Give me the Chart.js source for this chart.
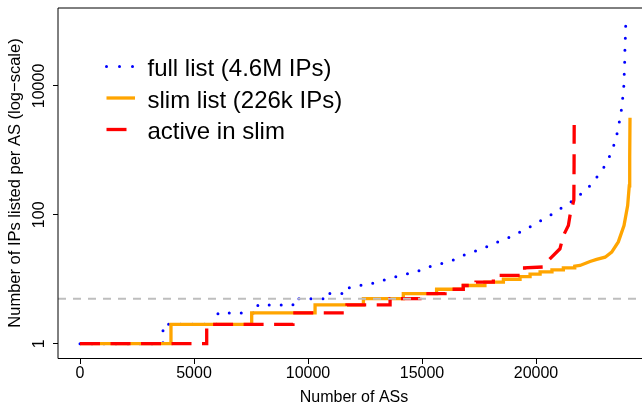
<!DOCTYPE html>
<html lang="en">
<head>
<meta charset="UTF-8">
<title>IPs listed per AS</title>
<script src="https://cdn.jsdelivr.net/npm/chart.js"></script>
<style>
  html, body { margin: 0; padding: 0; overflow: hidden; background: #fff; }
  #wrap { width: 650px; height: 407px; }
</style>
</head>
<body>
<div id="wrap"><canvas id="chart" width="650" height="407"></canvas></div>
<script>
  // sorted ASs -> IPs per AS
  const fullX = [0, 3640, 3640, 6050, 6050, 7800, 7800, 9340, 9340, 10660,
                 10660, 11580, 11580, 12130, 12630, 13030, 13450, 13860, 14300, 14750,
                 15120, 15560, 15970, 16390, 16750, 17150, 17560, 17940, 18320, 18710,
                 19110, 19440, 19810, 20180, 20530, 20850, 21200, 21540, 21870, 22180,
                 22490, 22750, 23010, 23230, 23410, 23550, 23650, 23740, 23800, 23850,
                 23870, 23890, 23900, 23920, 23935];
  const fullY = [1, 1, 2, 2, 3, 3, 4, 4, 5, 5,
                 6, 6, 7, 8, 8.2, 9.1, 10, 11, 12, 13,
                 15, 16.4, 18, 20, 23, 26, 29, 33, 38, 43,
                 49, 58, 67, 80, 93, 111, 134, 160, 196, 243,
                 311, 424, 570, 813, 1190, 1780, 2700, 4140, 6340, 9820,
                 15200, 23700, 36700, 56800, 88300];

  const slimX = [0, 3990, 3990, 7530, 7530, 10310, 10310, 12430, 12430, 14180,
                 14180, 15640, 15640, 16810, 16810, 17760, 17760, 18570, 18570, 19300,
                 19300, 19740, 19740, 20180, 20180, 20700, 20700, 21200, 21200, 21700,
                 21700, 21930, 22370, 22660, 23030, 23320, 23610, 23860, 24020, 24090,
                 24110, 24123];
  const slimY = [1, 1, 2, 2, 3, 3, 4, 4, 5, 5,
                 6, 6, 7, 7, 8, 8, 9, 9, 10, 10,
                 11, 11, 12, 12, 13, 13, 14, 14, 15, 15,
                 16, 16.4, 18.9, 20.3, 22, 26.4, 38, 68, 139, 282,
                 800, 3220];

  const activeX = [0, 5557, 5557, 9340, 9340, 11710, 11710, 13600, 13600, 14910,
                   14910, 16010, 16010, 16810, 16810, 17370, 17370, 18130, 18130, 18400,
                   18400, 19300, 19300, 19500, 19500, 20300, 20610, 21050, 21200, 21420,
                   21490, 21580, 21660, 21670, 21675];
  const activeY = [1, 1, 2, 2, 3, 3, 4, 4, 5, 5,
                   6, 6, 7, 7, 8, 8, 9, 9, 10, 10,
                   11.5, 11.5, 13, 13, 15, 15.5, 20.8, 29.7, 47.5, 68,
                   97, 130, 170, 600, 2480];

  const threshold = 5;
  const xTicks = [0, 5000, 10000, 15000, 20000];
  const yTicks = [1, 100, 10000];
  const xMin = -965, xMax = 25000;
  const yMin = 0.637, yMax = 161900;

  const labels = ['full list (4.6M IPs)', 'slim list (226k IPs)', 'active in slim'];

  function pts(xs, ys) {
    return xs.map((x, i) => ({ x: x, y: ys[i] }));
  }

  const FONT = '"Liberation Sans", Arial, Helvetica, sans-serif';

  // box round the plot region
  const boxPlugin = {
    id: 'box',
    afterDraw(chart) {
      const a = chart.chartArea, ctx = chart.ctx;
      ctx.save();
      ctx.strokeStyle = '#000';
      ctx.lineWidth = 1;
      ctx.beginPath();
      ctx.moveTo(a.left, a.bottom + 0.5);
      ctx.lineTo(a.left, a.top);
      ctx.lineTo(a.right, a.top);
      ctx.moveTo(a.left, a.bottom + 0.5);
      ctx.lineTo(a.right, a.bottom + 0.5);
      ctx.stroke();
      ctx.restore();
    }
  };

  // legend inside the plot, top left
  const insideLegend = {
    id: 'insideLegend',
    afterDraw(chart) {
      const ctx = chart.ctx;
      ctx.save();
      ctx.font = '24px ' + FONT;
      ctx.fillStyle = '#000';
      ctx.textBaseline = 'alphabetic';
      for (let i = 0; i < 3; i++) {
        const ds = chart.data.datasets[i];
        const base = 76 + 31.5 * i;
        const sy = base - 9.5;
        ctx.strokeStyle = ds.borderColor;
        ctx.lineWidth = ds.borderWidth;
        ctx.lineCap = ds.borderCapStyle || 'butt';
        ctx.setLineDash(ds.legendDash);
        ctx.beginPath();
        ctx.moveTo(106.5, sy);
        ctx.lineTo(135, sy);
        ctx.stroke();
        ctx.fillText(ds.label, 147.5, base);
      }
      ctx.restore();
    }
  };

  new Chart(document.getElementById('chart'), {
    type: 'line',
    data: {
      datasets: [
        {
          label: labels[0],
          data: pts(fullX, fullY),
          borderColor: '#0000FF',
          borderWidth: 3,
          borderDash: [0, 12],
          legendDash: [0, 13],
          borderCapStyle: 'round',
          pointRadius: 0,
          tension: 0,
          fill: false,
          order: 3
        },
        {
          label: labels[1],
          data: pts(slimX, slimY),
          borderColor: '#FFA500',
          borderWidth: 3.3,
          legendDash: [],
          pointRadius: 0,
          tension: 0,
          fill: false,
          order: 2
        },
        {
          label: labels[2],
          data: pts(activeX, activeY),
          borderColor: '#FF0000',
          borderWidth: 3.3,
          borderDash: [20, 10.5],
          legendDash: [20, 10],
          pointRadius: 0,
          tension: 0,
          fill: false,
          order: 1
        },
        {
          label: 'threshold',
          data: pts([xMin, xMax], [threshold, threshold]),
          borderColor: '#BEBEBE',
          borderWidth: 2,
          borderDash: [8, 7],
          pointRadius: 0,
          fill: false,
          order: 0
        }
      ]
    },
    options: {
      responsive: false,
      animation: false,
      layout: { padding: { top: 8, right: 0, bottom: 0, left: 0 } },
      plugins: {
        legend: { display: false },
        tooltip: { enabled: false }
      },
      scales: {
        x: {
          type: 'linear',
          min: xMin,
          max: xMax,
          afterBuildTicks: s => { s.ticks = xTicks.map(v => ({ value: v })); },
          afterFit: s => { s.height = 49; },
          ticks: {
            color: '#000',
            font: { family: FONT, size: 16 },
            padding: 0,
            maxRotation: 0,
            autoSkip: false,
            callback: v => String(v)
          },
          grid: { drawOnChartArea: false, tickLength: 6, tickColor: '#000' },
          border: { display: false },
          title: {
            display: true,
            text: 'Number of ASs',
            color: '#000',
            font: { family: FONT, size: 16 },
            padding: { top: 0, bottom: 0 }
          }
        },
        y: {
          type: 'logarithmic',
          min: yMin,
          max: yMax,
          afterBuildTicks: s => { s.ticks = yTicks.map(v => ({ value: v })); },
          afterFit: s => { s.width = 58; },
          ticks: {
            color: '#000',
            font: { family: FONT, size: 16 },
            minRotation: 90,
            maxRotation: 90,
            crossAlign: 'center',
            padding: -9,
            autoSkip: false,
            callback: v => String(v)
          },
          grid: { drawOnChartArea: false, tickLength: 5, tickColor: '#000' },
          border: { display: false },
          title: {
            display: true,
            text: 'Number of IPs listed per AS (log\u2212scale)',
            color: '#000',
            font: { family: FONT, size: 16.5 },
            padding: { top: 6, bottom: 0 }
          }
        }
      }
    },
    plugins: [boxPlugin, insideLegend]
  });
</script>
</body>
</html>
